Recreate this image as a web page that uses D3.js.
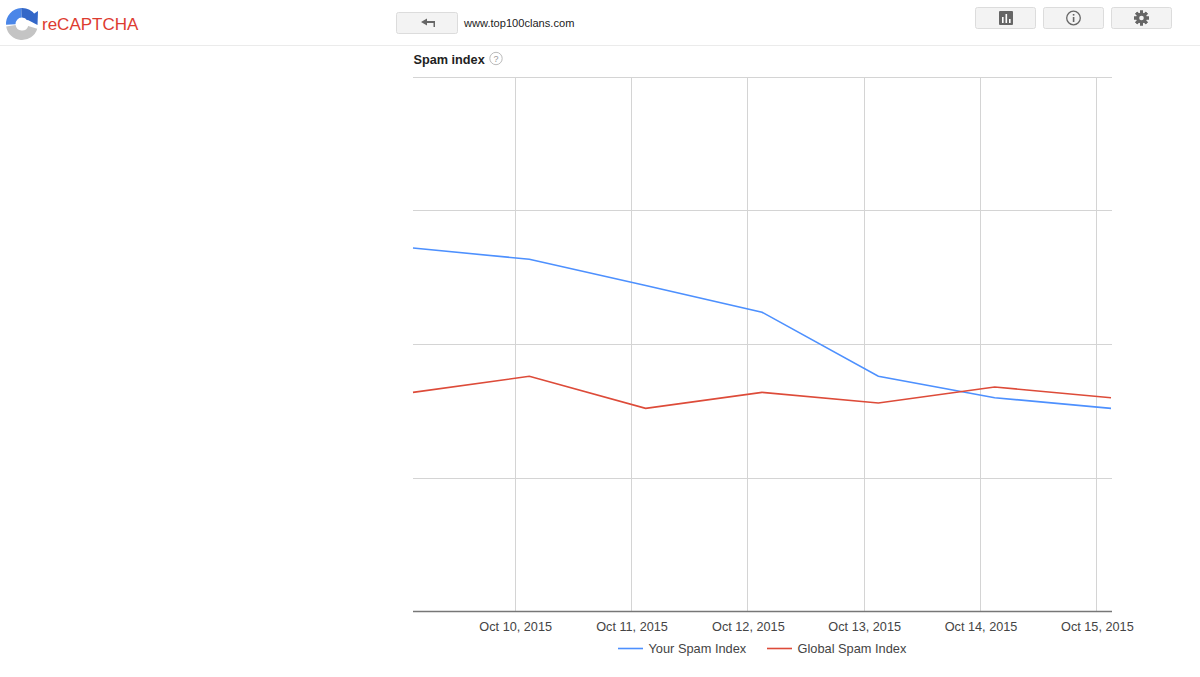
<!DOCTYPE html>
<html>
<head>
<meta charset="utf-8">
<script src="https://cdn.jsdelivr.net/npm/d3@7"></script>
<style>
  html, body { margin: 0; padding: 0; background: #fff; overflow: hidden; }
  svg { display: block; font-family: Arial, "Liberation Sans", sans-serif; }
</style>
</head>
<body>
<div id="chart"></div>
<script>
// values, y axis has no labels so 0..1 is just the gridline range
var dates = ["2015-10-09", "2015-10-10", "2015-10-11", "2015-10-12", "2015-10-13", "2015-10-14", "2015-10-15"];
var yourSpam = [0.68, 0.659, 0.61, 0.56, 0.44, 0.40, 0.38];
var globalSpam = [0.41, 0.44, 0.38, 0.41, 0.39, 0.42, 0.40];
var tickDates = ["2015-10-10", "2015-10-11", "2015-10-12", "2015-10-13", "2015-10-14", "2015-10-15"];
var yTicks = [0, 0.25, 0.5, 0.75, 1];
var seriesNames = ["Your Spam Index", "Global Spam Index"];
var seriesColors = ["#4d90fe", "#dd4b39"];

var width = 1200, height = 677;
var parseDay = d3.utcParse("%Y-%m-%d");
var fmt = d3.utcFormat("%b %-d, %Y");
// samples sit a little under 3 hours after midnight
var sampleTime = function(s) { return d3.utcMinute.offset(parseDay(s), 175); };

var svg = d3.select("#chart").append("svg")
  .attr("width", width)
  .attr("height", height);

var x = d3.scaleUtc()
  .domain([sampleTime(dates[0]), sampleTime(dates[dates.length - 1])])
  .range([413, 1111]);
var y = d3.scaleLinear().domain([0, 1]).range([611.5, 77]);

/* header */
svg.append("rect").attr("x", 0).attr("y", 45).attr("width", width).attr("height", 1).attr("fill", "#ebebeb");

// logo: three arc pieces
var logo = svg.append("g").attr("transform", "translate(22,24)");
var arc = d3.arc().innerRadius(6.5).outerRadius(16);
logo.append("path").attr("d", arc({startAngle: -Math.PI / 2 - 0.05, endAngle: -0.05})).attr("fill", "#4a86e8");
logo.append("path").attr("d", arc({startAngle: -0.05, endAngle: 0.95})).attr("fill", "#3367c8");
logo.append("path").attr("d", arc({startAngle: Math.PI / 2 + 0.3, endAngle: Math.PI * 1.5 - 0.15})).attr("fill", "#c4c4c4");
logo.append("path").attr("d", "M4,-5 L16,-13 L15.5,1 Z").attr("fill", "#3367c8");

svg.append("text").attr("x", 42).attr("y", 29.5)
  .attr("font-size", 17).attr("fill", "#dd3b30").text("reCAPTCHA");

function button(bx, by, bw, bh) {
  svg.append("rect")
    .attr("x", bx + 0.5).attr("y", by + 0.5)
    .attr("width", bw - 1).attr("height", bh - 1)
    .attr("rx", 2)
    .attr("fill", "#f3f3f3")
    .attr("stroke", "#dcdcdc");
}

button(396, 12, 62, 22);
svg.append("path")
  .attr("d", "M421,22 L427,18.5 L427,21 L435,21 L435,27 L433.5,27 L433.5,23 L427,23 L427,25.5 Z")
  .attr("fill", "#666");
svg.append("text").attr("x", 464).attr("y", 26.5)
  .attr("font-size", 11.1).attr("fill", "#222").text("www.top100clans.com");

button(975, 7, 61, 22);
svg.append("rect").attr("x", 999).attr("y", 11).attr("width", 14).attr("height", 14).attr("rx", 1).attr("fill", "#666");
[[1002, 17, 6], [1005.5, 14, 9], [1009, 19, 4]].forEach(function(b) {
  svg.append("rect").attr("x", b[0]).attr("y", b[1]).attr("width", 1.6).attr("height", b[2]).attr("fill", "#fff");
});

button(1043, 7, 61, 22);
svg.append("circle").attr("cx", 1073.5).attr("cy", 18).attr("r", 6.8).attr("fill", "none").attr("stroke", "#666").attr("stroke-width", 1.3);
svg.append("rect").attr("x", 1072.8).attr("y", 17).attr("width", 1.6).attr("height", 5).attr("fill", "#666");
svg.append("rect").attr("x", 1072.8).attr("y", 14).attr("width", 1.6).attr("height", 1.6).attr("fill", "#666");

button(1111, 7, 61, 22);
var gear = svg.append("g").attr("transform", "translate(1141.5,18)");
d3.range(8).forEach(function(i) {
  gear.append("rect").attr("x", -1.5).attr("y", -7.5).attr("width", 3).attr("height", 15)
    .attr("fill", "#666").attr("transform", "rotate(" + i * 45 + ")");
});
gear.append("circle").attr("r", 5.4).attr("fill", "#666");
gear.append("circle").attr("r", 2.3).attr("fill", "#f3f3f3");

/* title */
svg.append("text").attr("x", 413.5).attr("y", 64)
  .attr("font-size", 12.7).attr("font-weight", "bold").attr("fill", "#222").text("Spam index");
svg.append("circle").attr("cx", 496).attr("cy", 58.5).attr("r", 6.2)
  .attr("fill", "#fff").attr("stroke", "#bbb");
svg.append("text").attr("x", 496).attr("y", 62)
  .attr("text-anchor", "middle").attr("font-size", 9).attr("fill", "#999").text("?");

/* grid */
svg.append("g").selectAll("line")
  .data(yTicks.slice(1))
  .enter().append("line")
  .attr("x1", 413).attr("x2", 1112)
  .attr("y1", function(d) { return Math.round(y(d) - 0.2) + 0.5; })
  .attr("y2", function(d) { return Math.round(y(d) - 0.2) + 0.5; })
  .attr("stroke", "#d4d4d4");

var ticks = tickDates.map(parseDay);
svg.append("g").selectAll("line")
  .data(ticks)
  .enter().append("line")
  .attr("x1", function(d) { return Math.floor(x(d)) + 0.5; })
  .attr("x2", function(d) { return Math.floor(x(d)) + 0.5; })
  .attr("y1", 77).attr("y2", 611)
  .attr("stroke", "#d4d4d4");

/* x axis */
var xAxis = d3.axisBottom(x).tickValues(ticks).tickFormat(fmt).tickSize(0).tickPadding(10);
var axisG = svg.append("g").attr("transform", "translate(0,611.5)").call(xAxis);
axisG.select(".domain").attr("d", "M413,0H1112").attr("stroke", "#777").attr("stroke-width", 1.5);
axisG.selectAll("text").attr("font-size", 12.7).attr("fill", "#444").attr("font-family", "Arial, 'Liberation Sans', sans-serif");

/* lines */
var line = d3.line()
  .x(function(d, i) { return x(sampleTime(dates[i])); })
  .y(function(d) { return y(d); });

[yourSpam, globalSpam].forEach(function(vals, k) {
  svg.append("path")
    .attr("d", line(vals))
    .attr("fill", "none")
    .attr("stroke", seriesColors[k])
    .attr("stroke-width", 1.6);
});

/* legend */
var legendX = [618, 767];
seriesNames.forEach(function(name, k) {
  svg.append("line")
    .attr("x1", legendX[k]).attr("x2", legendX[k] + 25)
    .attr("y1", 648.5).attr("y2", 648.5)
    .attr("stroke", seriesColors[k]).attr("stroke-width", 1.6);
  svg.append("text")
    .attr("x", legendX[k] + 30.5).attr("y", 653)
    .attr("font-size", 12.8).attr("fill", "#444").text(name);
});
</script>
</body>
</html>
